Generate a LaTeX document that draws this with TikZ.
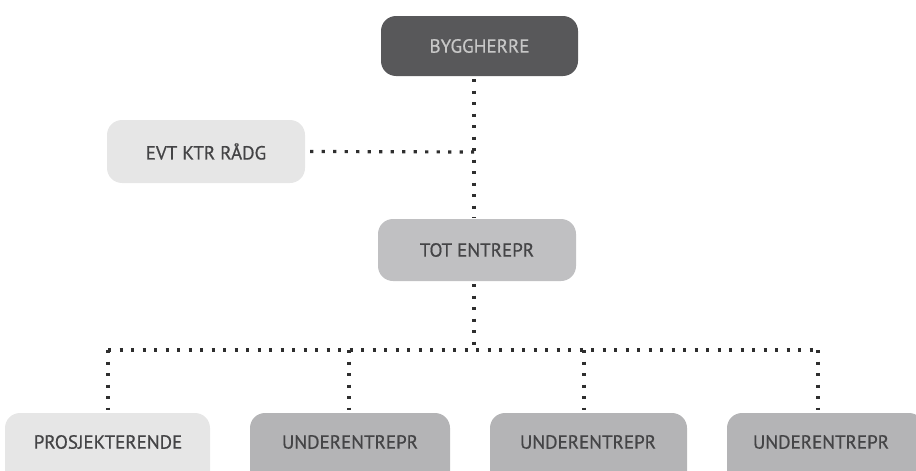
\documentclass[tikz,border=0pt]{standalone}
\usepackage{fontspec}
\setmainfont{PT Sans}
\newfontfamily\lblfont{PT Sans}[FakeBold=0.6]
\definecolor{darkbox}{HTML}{58585A}
\definecolor{midbox}{HTML}{C0C0C2}
\definecolor{undbox}{HTML}{B4B4B6}
\definecolor{lightbox}{HTML}{E6E6E6}
\definecolor{txt}{HTML}{444446}
\definecolor{dotc}{HTML}{2E2E2E}
\tikzset{
  orgbox/.style={rounded corners=15pt, minimum height=61pt, text=txt, font=\lblfont\fontsize{19}{22}\selectfont, inner sep=0pt},
  lbl/.style={text=txt, font=\lblfont\fontsize{19}{22}\selectfont, inner sep=0pt},
  dotline/.style={draw=dotc, line width=3.2pt, dash pattern=on 3.2pt off 8.3pt}
}
\begin{document}
\begin{tikzpicture}[x=1pt,y=-1pt]
\useasboundingbox (0,0) rectangle (916,471);
\clip (0,0) rectangle (916,471);
\node[orgbox, fill=darkbox, text=black!22, minimum width=197pt, minimum height=60pt] (bh) at (479.5,46) {BYGGHERRE};
\node[orgbox, fill=lightbox, minimum width=198pt, minimum height=63pt] (evt) at (206,151.5) {EVT KTR RÅDG};
\node[orgbox, fill=midbox, minimum width=198pt, minimum height=62pt] (tot) at (477,250) {TOT ENTREPR};
\node[orgbox, fill=lightbox, minimum width=205pt, minimum height=90pt] (pro) at (107.5,458) {};
\node[lbl] (prot) at (108,442) {PROSJEKTERENDE};
\node[orgbox, fill=undbox, minimum width=200pt, minimum height=90pt] (u1) at (350,458) {};
\node[lbl] (u1t) at (350,442) {UNDERENTREPR};
\node[orgbox, fill=undbox, minimum width=197pt, minimum height=90pt] (u2) at (588.5,458) {};
\node[lbl] (u2t) at (588,442) {UNDERENTREPR};
\node[orgbox, fill=undbox, minimum width=197pt, minimum height=90pt] (u3) at (825.5,458) {};
\node[lbl] (u3t) at (821,442) {UNDERENTREPR};
\coordinate (j1) at (474,152);
\coordinate (j2) at (474,350);
\coordinate (l0) at (108,350);
\coordinate (l1) at (349,350);
\coordinate (l2) at (584,350);
\coordinate (l3) at (818,350);
\draw[dotline] (474,79) -- (474,218);
\draw[dotline] (evt.east) ++(5,0) -- (j1);
\draw[dotline] (474,284) -- (j2);
\draw[dotline] (l0) -- (l3);
\draw[dotline] (l0) -- (108,410);
\draw[dotline] (l1) -- (349,410);
\draw[dotline] (l2) -- (584,410);
\draw[dotline] (l3) -- (818,410);
\end{tikzpicture}
\end{document}
